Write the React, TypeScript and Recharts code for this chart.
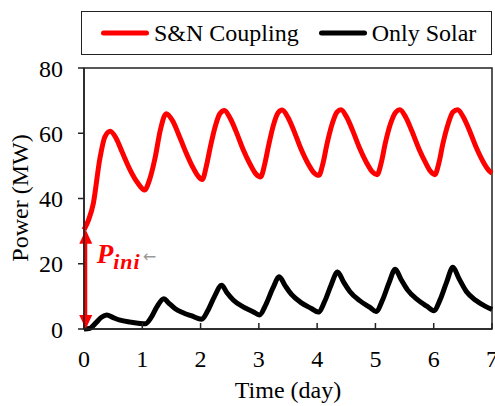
import { LineChart, Line, XAxis, YAxis, Legend, ReferenceArea, ReferenceLine } from 'recharts';

const FONT = '"Liberation Serif", "Times New Roman", serif';

const xTicks = [0, 1, 2, 3, 4, 5, 6, 7];
const yTicks = [0, 20, 40, 60, 80];

// S&N Coupling (red)
const couplingDays = [
  0, 0.08, 0.16, 0.27, 0.36, 0.45, 0.55, 0.66, 0.79, 0.92, 1.04,
  1.12, 1.22, 1.31, 1.41, 1.52, 1.62, 1.74, 1.86, 1.96, 2.03,
  2.1, 2.17, 2.25, 2.33, 2.41, 2.51, 2.61, 2.73, 2.85, 2.95, 3.03,
  3.1, 3.17, 3.25, 3.33, 3.4, 3.5, 3.6, 3.72, 3.84, 3.94, 4.03,
  4.1, 4.17, 4.26, 4.34, 4.41, 4.51, 4.61, 4.73, 4.85, 4.95, 5.03,
  5.1, 5.17, 5.26, 5.35, 5.42, 5.52, 5.62, 5.74, 5.86, 5.95, 6.02,
  6.09, 6.16, 6.25, 6.33, 6.41, 6.51, 6.61, 6.73, 6.85, 6.95, 7.0,
];
const couplingPower = [
  30.4, 33.5, 38.5, 52, 59, 60.6, 58.5, 54, 48.8, 44.8, 42.6,
  45.5, 52.5, 61, 66, 63.8, 59.8, 54.5, 49.8, 46.8, 45.8,
  50, 56, 62, 66, 67, 64.5, 60.5, 55, 50.5, 47.5, 46.6,
  50.5, 56.5, 62.5, 66.3, 67.1, 64.8, 60.8, 55.3, 50.8, 48, 47.1,
  50.8, 56.8, 63, 66.5, 67.2, 64.8, 60.8, 55.4, 50.9, 48.1, 47.3,
  51, 57, 63, 66.5, 67.2, 64.9, 60.9, 55.5, 51, 48.2, 47.3,
  51, 57, 63, 66.5, 67.2, 64.9, 61, 55.6, 51.2, 48.5, 47.8,
];

// Only Solar (black)
const solarDays = [
  0, 0.1, 0.2, 0.3, 0.39, 0.5, 0.62, 0.8, 0.96, 1.05,
  1.15, 1.25, 1.37, 1.45, 1.56, 1.7, 1.85, 2.02,
  2.12, 2.24, 2.36, 2.45, 2.56, 2.73, 2.9, 3.01,
  3.12, 3.24, 3.35, 3.45, 3.56, 3.73, 3.9, 4.02,
  4.13, 4.24, 4.35, 4.45, 4.56, 4.73, 4.9, 5.01,
  5.12, 5.23, 5.34, 5.44, 5.55, 5.72, 5.88, 6.0,
  6.11, 6.22, 6.33, 6.43, 6.56, 6.72, 6.88, 7.0,
];
const solarPower = [
  0, 0.2, 1.8, 3.6, 4.3, 3.5, 2.7, 2.1, 1.7, 1.6,
  3.5, 6.8, 9.3, 8, 6.3, 5, 4, 3,
  5.5, 10, 13.4, 11.2, 8.9, 6.8, 5.3, 4.3,
  7.5, 12.5, 16, 13.3, 10.6, 8, 6.3, 5.2,
  8.5, 13.5, 17.5, 14.5, 11.5, 8.7, 6.7, 5.4,
  8.8, 14, 18.3, 15.2, 12, 9, 7, 5.6,
  9, 14.3, 18.9, 15.6, 11.5, 8.8, 7, 6,
];

const initialPower = 30.4;

const couplingData = couplingDays.map((d, i) => ({ day: d, power: couplingPower[i] }));
const solarData = solarDays.map((d, i) => ({ day: d, power: solarPower[i] }));

const XTick = (props: any) => {
  const { x, y, payload } = props;
  return (
    <g>
      <line x1={x} x2={x} y1={y} y2={y - 6} stroke="#222" strokeWidth={1.5} />
      <text x={x} y={y + 38} textAnchor="middle" fill="#000" fontSize={24} fontFamily={FONT}>
        {payload.value}
      </text>
    </g>
  );
};

const PiniArrow = (props: any) => {
  const { x1, y1, y2 } = props;
  const x = x1;
  return (
    <g>
      <line x1={x} x2={x} y1={y1 + 12} y2={y2 - 12} stroke="#ff0000" strokeWidth={3} />
      <polygon points={`${x},${y1} ${x - 6.5},${y1 + 14} ${x + 6.5},${y1 + 14}`} fill="#ff0000" />
      <polygon points={`${x},${y2} ${x - 6.5},${y2 - 14} ${x + 6.5},${y2 - 14}`} fill="#ff0000" />
      <text x={x + 11} y={y1 + 33} fill="#ff0000" fontFamily={FONT} fontWeight="bold" fontStyle="italic" fontSize={27}>
        P
        <tspan fontSize={22} dy={6} letterSpacing={1}>
          ini
        </tspan>
      </text>
      <text x={x + 57} y={y1 + 32} fill="#999" fontSize={16} fontFamily="DejaVu Sans">
        ←
      </text>
    </g>
  );
};

const LegendBox = () => (
  <div
    style={{
      boxSizing: 'border-box',
      width: 411,
      height: 44,
      border: '1.5px solid #222',
      display: 'flex',
      alignItems: 'center',
      fontFamily: FONT,
      fontSize: 24,
      color: '#000',
      paddingLeft: 19,
      whiteSpace: 'nowrap',
    }}
  >
    <svg width={48} height={10}>
      <line x1={2.5} x2={45.5} y1={5} y2={5} stroke="#ff0000" strokeWidth={5} strokeLinecap="round" />
    </svg>
    <span style={{ marginLeft: 5 }}>S&amp;N Coupling</span>
    <svg width={48} height={10} style={{ marginLeft: 20 }}>
      <line x1={2.5} x2={45.5} y1={5} y2={5} stroke="#000" strokeWidth={5} strokeLinecap="round" />
    </svg>
    <span style={{ marginLeft: 5 }}>Only Solar</span>
  </div>
);

const App = () => {
  return (
    <div style={{ position: 'absolute', left: 0, top: 0, width: 495, height: 406, background: '#fff' }}>
      <LineChart width={495} height={406} margin={{ top: 68, right: 3, bottom: 0, left: 0 }}>
        <XAxis
          dataKey="day"
          type="number"
          domain={[0, 7]}
          ticks={xTicks}
          interval={0}
          height={77}
          tickSize={0}
          tickMargin={0}
          tickLine={false}
          tick={XTick}
          axisLine={{ stroke: '#222', strokeWidth: 1.5 }}
          label={{
            content: () => (
              <text x={288} y={398} textAnchor="middle" fill="#000" fontSize={24} fontFamily={FONT}>
                Time (day)
              </text>
            ),
          }}
        />
        <YAxis
          type="number"
          domain={[0, 80]}
          ticks={yTicks}
          interval={0}
          width={84}
          tickSize={6}
          tickMargin={15}
          tick={{ fill: '#000', fontSize: 24, fontFamily: FONT }}
          tickLine={{ stroke: '#222', strokeWidth: 1.5 }}
          axisLine={{ stroke: '#222', strokeWidth: 1.5 }}
          label={{
            content: () => (
              <text transform="translate(28,198) rotate(-90)" textAnchor="middle" fill="#000" fontSize={24} fontFamily={FONT}>
                Power (MW)
              </text>
            ),
          }}
        />
        <ReferenceArea x1={0} x2={7} y1={0} y2={80} fill="none" stroke="#222" strokeWidth={1.5} />
        <Legend
          layout="vertical"
          align="center"
          verticalAlign="middle"
          wrapperStyle={{ top: 11, left: 81, width: 411, height: 44 }}
          content={LegendBox}
        />
        <Line
          data={couplingData}
          dataKey="power"
          name="S&N Coupling"
          type="monotone"
          stroke="#ff0000"
          strokeWidth={5}
          dot={false}
          isAnimationActive={false}
        />
        <Line
          data={solarData}
          dataKey="power"
          name="Only Solar"
          type="monotone"
          stroke="#000"
          strokeWidth={5}
          dot={false}
          isAnimationActive={false}
        />
        <ReferenceLine
          segment={[
            { x: 0.03, y: initialPower },
            { x: 0.03, y: 0 },
          ]}
          shape={PiniArrow}
        />
      </LineChart>
    </div>
  );
};

export default App;
